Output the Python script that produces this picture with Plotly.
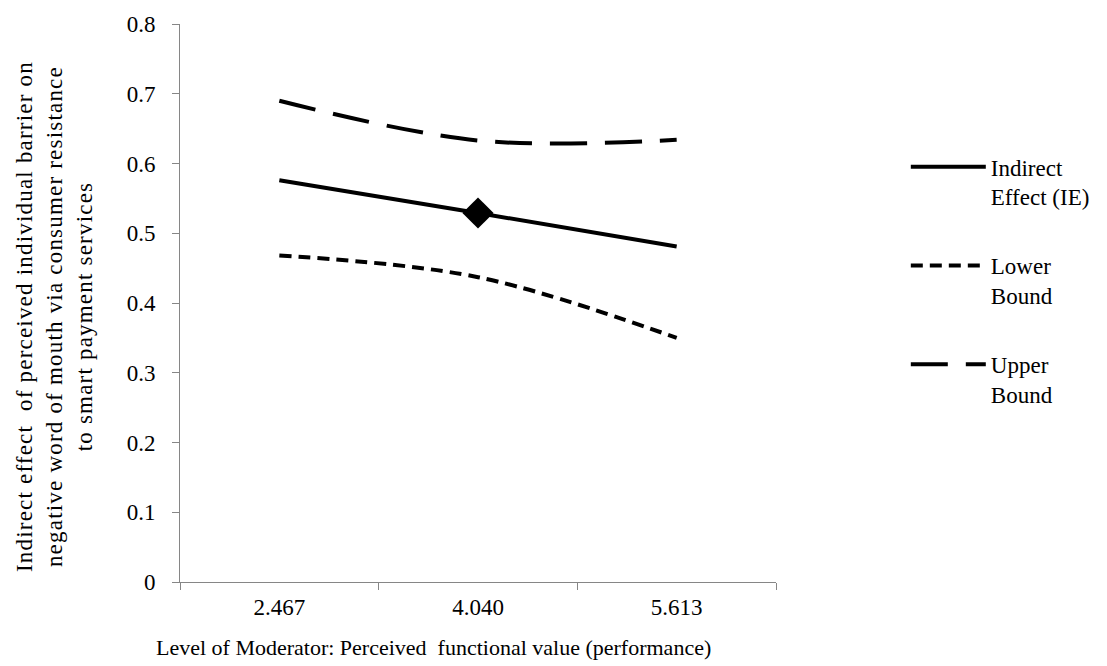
import plotly.graph_objects as go

# Moderator levels (category axis) and conditional indirect effects
moderator_levels = ["2.467", "4.040", "5.613"]
indirect_effect = [0.576, 0.529, 0.481]
lower_bound = [0.468, 0.437, 0.350]
upper_bound = [0.690, 0.633, 0.634]
y_ticks = [0, 0.1, 0.2, 0.3, 0.4, 0.5, 0.6, 0.7, 0.8]

FONT = "Liberation Serif, Times New Roman, serif"
FS = 23
AXIS_GREY = "#868686"

fig = go.Figure()

fig.add_trace(go.Scatter(
    x=moderator_levels, y=indirect_effect, mode="lines",
    name="Indirect<br>Effect (IE)", legendgroup="ie",
    line=dict(color="black", width=4, shape="spline"),
))
fig.add_trace(go.Scatter(
    x=moderator_levels, y=lower_bound, mode="lines",
    name="Lower<br>Bound", legendgroup="lo",
    line=dict(color="black", width=4, dash="12px,7px", shape="spline"),
))
fig.add_trace(go.Scatter(
    x=moderator_levels, y=upper_bound, mode="lines",
    name="Upper<br>Bound", legendgroup="up",
    line=dict(color="black", width=4, dash="37px,18px", shape="spline"),
))
# Diamond marker at the mean level of the moderator
fig.add_trace(go.Scatter(
    x=[moderator_levels[1]], y=[indirect_effect[1]], mode="markers",
    showlegend=False,
    marker=dict(symbol="diamond", size=24, color="black"),
))

y_title_lines = [
    "Indirect effect  of perceived individual barrier on",
    "negative word of mouth via consumer resistance",
    "to smart payment services",
]
y_title = "<br>".join(
    f'<span style="letter-spacing:1.2px">{line}</span>' for line in y_title_lines
)

fig.update_layout(
    width=1107, height=666,
    margin=dict(l=180, r=330, t=18, b=84),
    paper_bgcolor="white", plot_bgcolor="white",
    font=dict(family=FONT, size=FS, color="black"),
    showlegend=True,
    legend=dict(
        x=1.2178, xanchor="left", y=0.54, yanchor="middle",
        valign="top", tracegroupgap=36, itemwidth=75,
        font=dict(family=FONT, size=FS, color="black"),
    ),
    xaxis=dict(
        type="category", range=[-0.5, 2.5],
        showline=True, linecolor=AXIS_GREY, linewidth=1,
        ticks="outside", tickson="boundaries", ticklen=7, tickcolor=AXIS_GREY,
        showgrid=False, zeroline=False, ticklabelstandoff=4,
        tickfont=dict(family=FONT, size=FS, color="black"),
    ),
    yaxis=dict(
        range=[0, 0.8], tickvals=y_ticks,
        ticktext=[f"{v:g}" for v in y_ticks],
        showline=True, linecolor=AXIS_GREY, linewidth=1,
        ticks="outside", ticklen=7, tickcolor=AXIS_GREY,
        showgrid=False, zeroline=False, ticklabelstandoff=12,
        tickfont=dict(family=FONT, size=FS, color="black"),
    ),
    annotations=[
        dict(
            text=y_title,
            xref="paper", yref="paper", x=(55 - 180) / 597, y=(582 - 314) / 564,
            xanchor="center", yanchor="middle", textangle=-90,
            showarrow=False, align="center",
            font=dict(family=FONT, size=FS, color="black"),
        ),
        dict(
            text="Level of Moderator: Perceived  functional value (performance)",
            xref="paper", yref="paper", x=(434 - 180) / 597, y=(582 - 648) / 564,
            xanchor="center", yanchor="middle", showarrow=False,
            font=dict(family=FONT, size=22, color="black"),
        ),
    ],
)

fig.write_html("out.html")
